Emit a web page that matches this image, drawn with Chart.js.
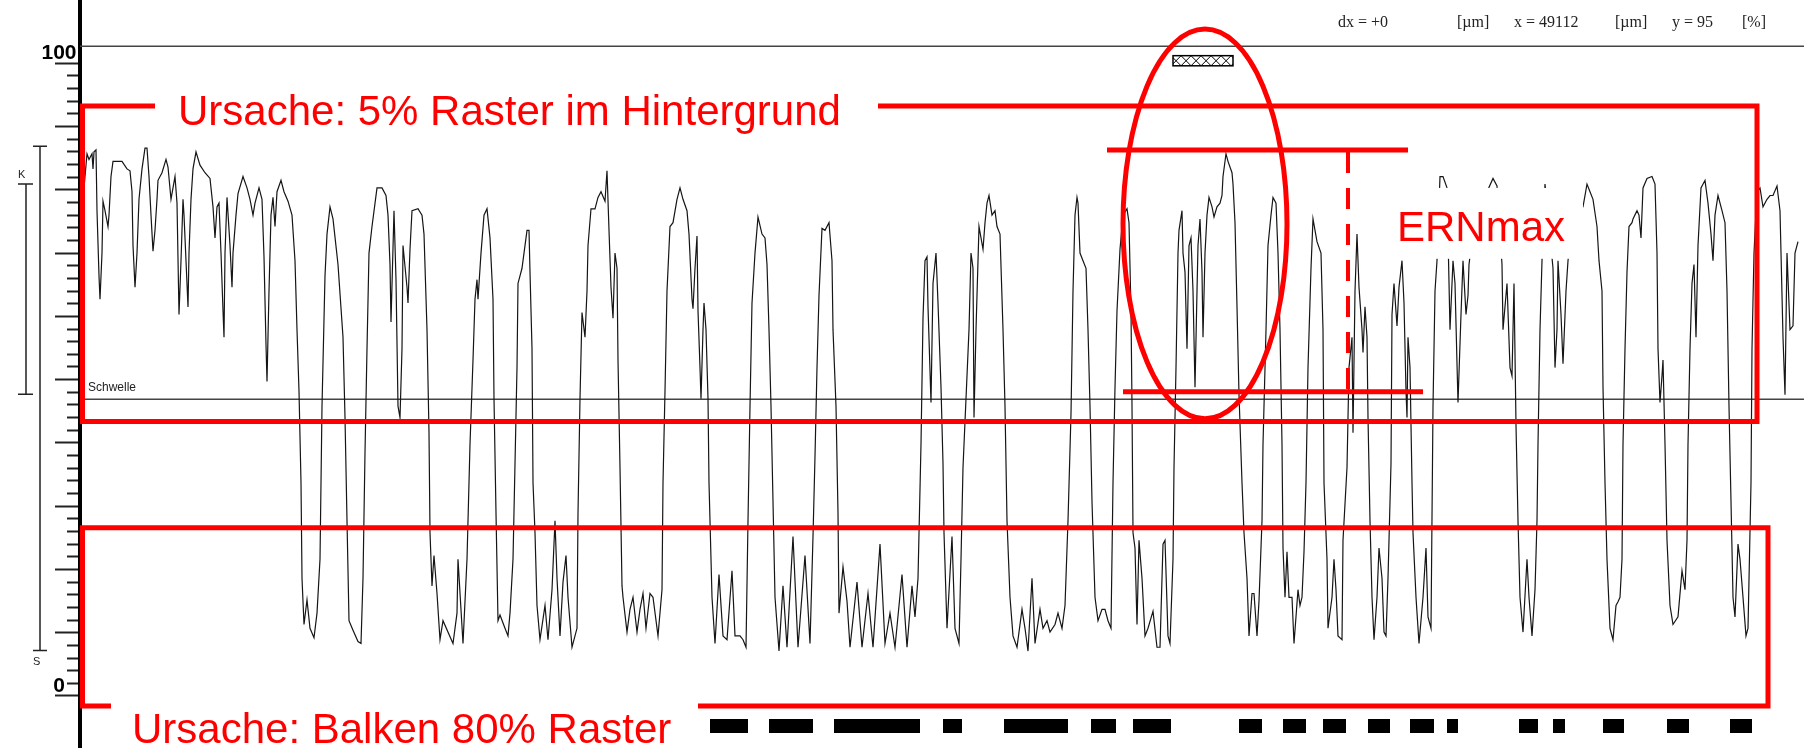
<!DOCTYPE html>
<html>
<head>
<meta charset="utf-8">
<script src="https://cdn.jsdelivr.net/npm/chart.js@4.4.1/dist/chart.umd.min.js"></script>
<style>
  html, body { margin: 0; padding: 0; background: #fff; }
</style>
</head>
<body>
<canvas id="remission" width="1804" height="748"></canvas>
<script>
// Messkurve: Position entlang der Messstrecke und Remission in %
const signalPos = [
  4, 7, 9, 12, 13, 14, 16, 17, 19, 20, 22, 23, 25, 28, 29, 31, 33, 42, 47, 50,
  52, 53, 55, 57, 59, 62, 65, 67, 69, 71, 73, 75, 77, 78, 82, 86, 88, 91, 93, 95,
  97, 99, 101, 103, 104, 106, 108, 109, 111, 113, 116, 120, 125, 130, 133, 135, 137, 139, 141, 143,
  144, 145, 147, 150, 152, 153, 156, 158, 163, 167, 170, 173, 175, 179, 182, 184, 186, 187, 189, 191,
  193, 195, 197, 201, 204, 208, 212, 215, 217, 219, 221, 222, 224, 227, 230, 234, 237, 240, 242, 245,
  247, 250, 253, 258, 263, 265, 267, 269, 273, 278, 281, 283, 285, 287, 289, 292, 297, 302, 306, 308,
  310, 311, 314, 316, 318, 320, 322, 323, 327, 328, 330, 332, 338, 342, 344, 347, 349, 350, 352, 354,
  357, 360, 363, 373, 377, 378, 383, 387, 390, 393, 395, 397, 398, 401, 404, 407, 410, 413, 414, 416,
  418, 420, 425, 428,
  430, 433, 435, 437, 438, 442, 447, 449, 450, 452, 453, 455, 457, 460, 465, 468, 472, 475, 477, 480,
  483, 486, 488, 492, 497, 498, 500, 502, 505, 507, 508, 511, 515, 518, 521, 525, 527, 529, 531, 533,
  535, 537, 538, 540, 542, 543, 547, 550, 553, 557, 560, 563, 566, 570, 573, 578, 582, 583, 585, 587,
  590, 593, 597, 600, 603, 607, 609, 612, 613, 615, 617, 618, 620, 621, 623, 624, 626, 628, 629, 632,
  635, 639, 643, 647, 652, 655, 660, 663, 666, 668, 670, 672, 675, 678, 682, 685, 687, 689, 691, 693,
  695, 699, 703, 707, 713, 718, 725, 730, 733, 735, 737, 739, 742, 745, 749, 752, 753, 756, 758, 759,
  763, 767, 770, 777, 782, 788, 793, 800, 805, 810, 815, 822, 827, 832, 835, 838, 841, 843, 845, 847,
  848, 851, 853, 856, 858, 861, 863, 864, 867, 872, 875, 879, 881, 883, 887, 889, 891, 893, 894, 896,
  899, 903, 905, 907, 909, 912, 915, 917, 920, 923, 925, 927, 930, 933, 937, 942, 945, 948, 952, 955,
  960, 963, 967, 970, 975, 978, 982, 985, 988, 991, 993, 995, 997, 998, 1000, 1003, 1006, 1008, 1010, 1012,
  1015, 1018, 1022, 1025, 1028, 1031, 1033, 1035, 1037, 1040, 1043, 1047, 1049, 1051, 1052, 1053, 1055, 1057, 1059, 1062,
  1065, 1068, 1073, 1077, 1080, 1083, 1085, 1088, 1090, 1093, 1094, 1096, 1098, 1099, 1102, 1103, 1105, 1107, 1109, 1111,
  1113, 1115, 1117, 1118, 1120, 1122, 1123, 1125, 1127, 1129, 1132, 1134, 1137, 1140, 1142, 1143, 1146, 1148, 1152, 1153,
  1155, 1157, 1159, 1162, 1164, 1167, 1169, 1172, 1174, 1177, 1179, 1182, 1183, 1186, 1188, 1191, 1193, 1196, 1198, 1200,
  1202, 1203, 1205, 1207, 1209, 1212, 1214, 1218, 1220, 1222, 1224, 1226, 1228, 1231, 1233, 1237, 1241, 1243, 1244, 1247,
  1248, 1252, 1254, 1256, 1258, 1262,
  1263, 1267, 1269, 1272, 1273, 1275, 1277, 1279, 1282, 1283, 1285, 1287, 1288, 1290, 1292, 1294, 1297, 1299, 1302, 1304,
  1306, 1308, 1311, 1312, 1314, 1317, 1319, 1322, 1324, 1326, 1327, 1328, 1330, 1332, 1333, 1336, 1339, 1343, 1346, 1348,
  1351, 1353, 1355, 1357, 1360, 1363, 1367, 1370, 1373, 1375, 1377, 1378, 1381, 1383, 1386, 1388, 1389, 1395, 1405, 1413,
  1417, 1422, 1423, 1427, 1430, 1432, 1433, 1434, 1436, 1438, 1440, 1443, 1447, 1449, 1452, 1455, 1457, 1458, 1460, 1462,
  1465, 1468, 1473, 1475, 1477, 1478, 1481, 1483, 1486, 1488, 1493, 1498, 1503, 1507, 1510, 1513, 1517, 1519, 1522, 1523,
  1525, 1527, 1530, 1533, 1536, 1538, 1540, 1542, 1543, 1545, 1547, 1549, 1552, 1553, 1557, 1559, 1561, 1563, 1567, 1572,
  1575, 1577, 1578, 1580, 1582, 1583, 1585, 1587, 1590, 1593, 1598, 1602, 1605, 1607, 1608, 1610, 1612, 1614, 1616, 1618,
  1621, 1625, 1628, 1631, 1633, 1635, 1638, 1642, 1645, 1647, 1649, 1651, 1653, 1655, 1658, 1660, 1663, 1666, 1668, 1671,
  1672, 1674, 1677, 1680, 1683, 1687, 1690, 1693, 1697, 1700, 1703, 1705, 1707, 1710, 1713, 1715, 1718
];
const signalVal = [
  80.3, 85.7, 84.8, 85.7, 83.3, 86.0, 86.3, 76.7, 66.4, 62.7, 70.0, 78.2, 76.7, 74.2, 76.0, 82.1, 84.5, 84.5, 83.3, 83.0,
  79.7, 71.2, 64.6, 70.0, 78.5, 83.3, 86.6, 86.6, 82.1, 76.0, 70.3, 73.6, 78.5, 81.5, 82.7, 84.8, 83.6, 78.5, 80.3, 82.1,
  77.9, 60.3, 68.8, 78.5, 76.0, 68.8, 61.5, 70.0, 78.5, 83.3, 86.0, 83.9, 82.7, 81.8, 77.3, 72.4, 77.3, 77.9, 70.0, 60.9,
  56.7, 70.0, 78.8, 71.2, 64.6, 70.0, 76.0, 79.4, 82.1, 80.3, 78.5, 76.0, 77.9, 80.3, 78.5, 69.4, 55.5, 49.7, 64.0, 76.0,
  78.8, 74.2, 79.7, 81.5, 79.7, 78.2, 76.0, 68.8, 57.9, 48.2, 33.7, 18.6, 11.3, 15.2, 10.7, 9.2, 13.1, 21.6, 45.8, 66.4,
  73.0, 77.3, 75.4, 68.2, 56.7, 44.0, 27.7, 11.9, 10.4, 8.6, 8.3, 18.6, 38.5, 54.9, 70.0, 74.2, 80.3, 80.3, 79.1, 76.0,
  68.2, 59.1, 76.7, 65.8, 45.8, 44.0, 54.9, 71.2, 64.6, 62.1, 70.6, 76.7, 77.0, 76.0, 73.0, 57.9, 41.6, 25.8, 17.4, 22.2,
  16.2, 8.9, 11.9, 8.3, 13.1, 21.6, 8.3, 21.6, 39.8, 53.1, 62.7, 65.8, 62.7, 70.0, 76.0, 77.0, 72.4, 62.7, 47.0, 28.9,
  11.9, 12.8, 10.7, 9.5,
  13.1, 21.6, 36.7, 51.9, 65.2, 67.6, 73.6, 73.6, 67.0, 54.9, 33.7, 25.8, 14.3, 8.9, 14.3, 8.9, 16.8, 27.7, 18.6, 9.5,
  18.0, 22.2, 15.6, 7.7, 10.7, 28.9, 47.0, 60.6, 56.7, 64.0, 71.2, 77.0, 77.0, 78.8, 79.7, 78.2, 83.0, 73.6, 64.6, 59.7,
  70.0, 67.6, 53.1, 36.1, 17.4, 15.6, 10.1, 13.7, 15.6, 10.1, 13.7, 16.2, 10.7, 16.2, 15.6, 9.5, 16.8, 33.7, 48.2, 64.0,
  74.2, 74.8, 78.5, 80.3, 78.5, 76.7, 73.0, 62.7, 61.2, 67.6, 72.7, 60.9, 51.9, 47.0, 57.9, 62.1, 57.9, 47.0, 33.7, 15.6,
  8.3, 19.2, 9.5, 8.9, 19.8, 9.5, 9.5, 8.9, 7.7, 27.7, 45.8, 62.1, 70.0, 75.7, 73.0, 72.4, 68.2, 57.9, 45.8, 30.7,
  15.6, 7.1, 17.4, 7.7, 25.2, 7.7, 22.2, 8.3, 25.2, 37.9, 51.9, 63.3, 73.9, 73.6, 74.8, 68.8, 57.9, 45.8, 28.9, 13.1,
  20.4, 15.0, 7.7, 18.0, 7.7, 16.2, 7.7, 24.0, 8.3, 13.1, 7.7, 19.2, 7.7, 17.4, 12.5, 18.6, 39.8, 59.7, 68.8, 69.4,
  61.5, 46.4, 65.2, 70.0, 62.1, 48.8, 36.7, 25.8, 10.7, 25.2, 10.7, 8.3, 21.6, 36.1, 50.6, 57.9, 70.0, 67.6, 44.0, 57.9,
  74.2, 70.6, 74.8, 77.9, 79.1, 76.0, 76.7, 74.2, 73.0, 57.9, 45.8, 27.7, 15.6, 9.5, 7.7, 13.7, 10.7, 7.1, 18.6, 8.3,
  13.7, 10.7, 11.9, 10.1, 11.3, 13.1, 10.7, 14.3, 27.7, 44.6, 64.0, 76.0, 78.8, 77.9, 70.0, 68.8, 67.6, 57.9, 45.8, 30.7,
  15.6, 11.9, 13.7, 13.7, 11.9, 10.7, 33.7, 48.8, 60.9, 70.6, 76.0, 77.0, 74.8, 60.9, 45.8, 25.8, 23.4, 11.3, 24.6, 18.6,
  9.5, 10.7, 13.4, 7.7, 7.7, 24.0, 24.6, 9.5, 8.3, 21.6, 36.1, 51.9, 70.0, 73.6, 76.7, 70.0, 67.0, 54.9, 71.2, 72.4,
  64.0, 48.8, 64.0, 71.2, 75.4, 67.0, 56.7, 70.0, 76.0, 78.8, 77.3, 75.7, 77.3, 77.9, 79.1, 82.1, 85.7, 84.5, 82.7, 80.9,
  74.8, 61.5, 47.6, 33.7, 25.8, 18.6, 9.5, 16.2, 16.2, 9.5, 15.0, 27.7, 39.8, 57.9, 71.2, 76.0, 78.8, 77.9, 70.0, 57.9,
  39.8, 23.4, 15.6, 22.8, 15.6, 15.6, 8.3, 16.8, 14.3, 15.6, 22.8, 33.7, 51.9, 67.6, 75.4, 71.8, 70.0, 57.9, 33.7, 21.6,
  10.7, 15.6, 21.6, 16.8, 9.5, 8.9,
  24.6, 36.1, 51.9, 56.7, 41.6, 64.0, 73.0, 64.6, 57.9, 54.3, 61.5, 56.7, 44.0, 27.7, 15.6, 8.9, 15.6, 23.4, 18.6, 10.1,
  9.5, 18.6, 36.7, 60.3, 65.2, 58.5, 64.6, 68.8, 62.1, 48.2, 44.0, 56.7, 51.9, 33.7, 25.8, 15.6, 8.3, 15.6, 23.4, 12.5,
  10.7, 45.8, 64.0, 68.8, 82.1, 82.1, 80.3, 57.9, 68.8, 65.2, 52.5, 46.4, 60.3, 68.8, 60.3, 63.3, 68.2, 76.0, 79.0, 81.8,
  80.6, 68.2, 57.9, 65.2, 51.9, 50.6, 57.9, 65.2, 42.8, 27.7, 15.6, 10.1, 21.6, 15.6, 9.5, 16.8, 27.7, 39.8, 57.9, 68.8,
  80.9, 76.0, 67.6, 51.9, 57.9, 68.8, 60.3, 52.5, 64.0, 68.8, 76.0, 77.0, 77.3, 80.9, 79.7, 78.5, 74.2, 68.8, 64.0, 48.8,
  33.7, 21.6, 10.7, 8.9, 14.3, 14.9, 15.6, 21.6, 39.8, 54.9, 67.0, 74.2, 74.8, 75.4, 76.7, 76.0, 72.4, 80.3, 81.8, 82.1,
  80.9, 70.0, 54.9, 46.4, 50.6, 53.1, 39.8, 24.6, 14.3, 11.3, 12.5, 19.8, 16.8, 24.6, 39.8, 54.9, 65.2, 68.2, 56.7, 71.2,
  80.3, 81.5, 77.9, 73.0, 68.8, 76.0, 79.1, 76.7, 74.8, 64.0, 45.8, 30.7, 15.6, 12.5, 24.0, 21.6, 15.6, 9.5, 10.7, 33.7,
  54.9, 70.0, 79.7, 80.3, 77.3, 78.5, 79.1, 79.1, 80.6, 76.7, 56.7, 47.6, 70.0, 57.9, 58.5, 70.0, 71.8
];

// Schwelle und oberer Rahmen (in %)
const schwelle = 46.9;
const rahmenOben = 102.7;
const posMax = 1724;

// Achse: Teilstriche alle 2 %, lange alle 10 %, beschriftet nur 0 und 100
const yMin = -8.22;
const yMax = 110.0;
const yLabels = [0, 100];

// Balken des 80%-Rasters (Anfang / Ende entlang der Messstrecke)
const balkenStart = [630, 689, 754, 863, 924, 1011, 1053, 1159, 1203, 1243, 1288, 1330, 1367, 1439, 1473, 1523, 1587, 1650];
const balkenEnde  = [668, 733, 840, 882, 988, 1036, 1091, 1182, 1226, 1266, 1310, 1354, 1378, 1458, 1485, 1544, 1609, 1672];
const balkenNiveau = -4.74;

const signal = signalPos.map((p, i) => ({ x: p, y: signalVal[i] }));
const balken = [];
balkenStart.forEach((s, i) => {
  balken.push({ x: s, y: balkenNiveau }, { x: balkenEnde[i], y: balkenNiveau }, { x: balkenEnde[i] + 0.5, y: null });
});

// rote Markierungen, in Achsenwerten
const rot = '#ff0000';
const kasten1 = { x1: 2.5, x2: 1677, top: 93.25, bottom: 43.4, luecke: [75, 798] };
const kasten2 = { x1: 2.5, x2: 1688, top: 26.6, bottom: -1.6, luecke: [31, 618] };
const oval = { x: 1125, y: 74.6, rx: 82, ry: 30.8 };
const ern = { oben: 86.3, unten: 48.1, obenVon: 1027, obenBis: 1328, untenVon: 1043, untenBis: 1343, x: 1268 };

const anmerkungen = {
  id: 'anmerkungen',
  afterDraw(chart) {
    const { ctx, scales: { x, y } } = chart;
    const px = v => x.getPixelForValue(v);
    const py = v => y.getPixelForValue(v);
    ctx.save();

    // K / S Skala links
    ctx.strokeStyle = '#222';
    ctx.lineWidth = 1.5;
    ctx.beginPath();
    ctx.moveTo(40, py(86.9)); ctx.lineTo(40, py(7.2));
    ctx.moveTo(33, py(86.9)); ctx.lineTo(47, py(86.9));
    ctx.moveTo(33, py(7.2)); ctx.lineTo(47, py(7.2));
    ctx.moveTo(26, py(80.9)); ctx.lineTo(26, py(47.7));
    ctx.moveTo(18, py(80.9)); ctx.lineTo(33, py(80.9));
    ctx.moveTo(18, py(47.7)); ctx.lineTo(33, py(47.7));
    ctx.stroke();
    ctx.fillStyle = '#222';
    ctx.font = '11px "Liberation Sans", Arial, sans-serif';
    ctx.textAlign = 'left';
    ctx.textBaseline = 'middle';
    ctx.fillText('K', 18, py(82.4));
    ctx.fillText('S', 33, py(5.3));

    // Kopfzeile
    ctx.fillStyle = '#222';
    ctx.font = '16px "Liberation Serif", "Times New Roman", serif';
    const kopf = [['dx = +0', 1258], ['[\u00b5m]', 1377], ['x = 49112', 1434], ['[\u00b5m]', 1535], ['y = 95', 1592], ['[%]', 1662]];
    kopf.forEach(([t, p]) => ctx.fillText(t, px(p), py(106.4)));

    // Schwelle
    ctx.font = '12px "Liberation Sans", Arial, sans-serif';
    ctx.textBaseline = 'alphabetic';
    ctx.fillText('Schwelle', px(8), py(48.2));

    // schraffiertes Kästchen
    const bx1 = px(1093), bx2 = px(1153), by1 = py(101.2), by2 = py(99.6);
    ctx.save();
    ctx.beginPath();
    ctx.rect(bx1, by1, bx2 - bx1, by2 - by1);
    ctx.clip();
    ctx.strokeStyle = '#000';
    ctx.lineWidth = 1;
    ctx.beginPath();
    for (let k = bx1 - 12; k < bx2 + 12; k += 10) {
      ctx.moveTo(k, by1); ctx.lineTo(k + (by2 - by1), by2);
      ctx.moveTo(k + (by2 - by1), by1); ctx.lineTo(k, by2);
    }
    ctx.stroke();
    ctx.restore();
    ctx.strokeStyle = '#000';
    ctx.lineWidth = 1.5;
    ctx.strokeRect(bx1, by1, bx2 - bx1, by2 - by1);

    // Abdeckung hinter ERNmax
    ctx.fillStyle = '#fff';
    ctx.fillRect(px(1292), py(80.3), px(1503) - px(1292), py(69.1) - py(80.3));

    // rote Rahmen
    ctx.strokeStyle = rot;
    ctx.lineWidth = 5;
    ctx.lineJoin = 'miter';
    ctx.beginPath();
    ctx.moveTo(px(kasten1.luecke[0]), py(kasten1.top));
    ctx.lineTo(px(kasten1.x1), py(kasten1.top));
    ctx.lineTo(px(kasten1.x1), py(kasten1.bottom));
    ctx.lineTo(px(kasten1.x2), py(kasten1.bottom));
    ctx.lineTo(px(kasten1.x2), py(kasten1.top));
    ctx.lineTo(px(kasten1.luecke[1]), py(kasten1.top));
    ctx.stroke();

    ctx.beginPath();
    ctx.moveTo(px(kasten2.luecke[0]), py(kasten2.bottom));
    ctx.lineTo(px(kasten2.x1), py(kasten2.bottom));
    ctx.lineTo(px(kasten2.x1), py(kasten2.top));
    ctx.lineTo(px(kasten2.x2), py(kasten2.top));
    ctx.lineTo(px(kasten2.x2), py(kasten2.bottom));
    ctx.lineTo(px(kasten2.luecke[1]), py(kasten2.bottom));
    ctx.stroke();

    // Oval
    ctx.beginPath();
    ctx.ellipse(px(oval.x), py(oval.y), px(oval.x + oval.rx) - px(oval.x), py(oval.y - oval.ry) - py(oval.y), 0, 0, Math.PI * 2);
    ctx.stroke();

    // ERNmax Linien
    ctx.beginPath();
    ctx.moveTo(px(ern.obenVon), py(ern.oben)); ctx.lineTo(px(ern.obenBis), py(ern.oben));
    ctx.moveTo(px(ern.untenVon), py(ern.unten)); ctx.lineTo(px(ern.untenBis), py(ern.unten));
    ctx.stroke();
    ctx.lineWidth = 4;
    ctx.setLineDash([21, 15]);
    ctx.beginPath();
    ctx.moveTo(px(ern.x), py(ern.oben) + 2); ctx.lineTo(px(ern.x), py(ern.unten));
    ctx.stroke();
    ctx.setLineDash([]);

    // Texte
    ctx.fillStyle = rot;
    ctx.font = '42px "Liberation Sans", Arial, sans-serif';
    ctx.textAlign = 'left';
    ctx.textBaseline = 'alphabetic';
    ctx.fillText('Ursache: 5% Raster im Hintergrund', px(98), py(90.2));
    ctx.fillText('Ursache: Balken 80% Raster', px(52), py(-7.4));
    ctx.fillText('ERNmax', px(1317), py(71.9));

    ctx.restore();
  }
};

new Chart(document.getElementById('remission'), {
  type: 'line',
  data: {
    datasets: [
      { label: 'Remission', data: signal, borderColor: '#151515', borderWidth: 1.2, pointRadius: 0, tension: 0 },
      { label: 'Schwelle', data: [{ x: 0, y: schwelle }, { x: posMax, y: schwelle }], borderColor: '#444', borderWidth: 1.5, pointRadius: 0 },
      { label: 'Rahmen', data: [{ x: 0, y: rahmenOben }, { x: posMax, y: rahmenOben }], borderColor: '#444', borderWidth: 1.5, pointRadius: 0 },
      { label: 'Balken 80%', data: balken, borderColor: '#000', borderWidth: 14, borderCapStyle: 'butt', pointRadius: 0, spanGaps: false }
    ]
  },
  options: {
    responsive: false,
    animation: false,
    devicePixelRatio: 1,
    layout: { padding: 0 },
    plugins: { legend: { display: false }, tooltip: { enabled: false } },
    scales: {
      x: { type: 'linear', min: 0, max: posMax, display: false },
      y: {
        position: 'left',
        min: yMin,
        max: yMax,
        afterFit: s => { s.width = 80; },
        afterBuildTicks: s => { s.ticks = s.ticks.filter(t => t.value >= 0 && t.value <= 100); },
        ticks: {
          stepSize: 2,
          autoSkip: false,
          callback: v => (yLabels.includes(v) ? String(v) : ''),
          font: { family: '"Liberation Sans", Arial, sans-serif', size: 21, weight: 'bold' },
          color: '#000',
          crossAlign: 'center',
          padding: -21.5,
          labelOffset: -10
        },
        grid: {
          drawOnChartArea: false,
          drawTicks: true,
          tickLength: 25,
          tickWidth: 2,
          tickColor: '#222',
          tickBorderDash: c => (c.tick && c.tick.value % 10 === 0 ? [] : [0, 12, 11, 0])
        },
        border: { display: true, color: '#000', width: 4 }
      }
    }
  },
  plugins: [anmerkungen]
});
</script>
</body>
</html>
